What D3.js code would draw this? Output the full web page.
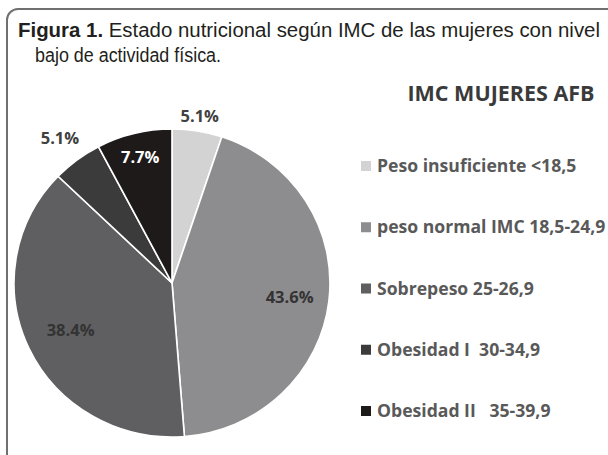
<!DOCTYPE html>
<html><head><meta charset="utf-8">
<script src="https://cdn.jsdelivr.net/npm/d3@7"></script>
<style>html,body{margin:0;padding:0;background:#fff;}svg{display:block;}</style>
</head><body>
<script>
const categories = ["Peso insuficiente <18,5", "peso normal IMC 18,5-24,9", "Sobrepeso 25-26,9", "Obesidad I  30-34,9", "Obesidad II   35-39,9"];
const values = [5.1, 43.6, 38.4, 5.1, 7.7];
const valueLabels = ["5.1%", "43.6%", "38.4%", "5.1%", "7.7%"];
const sliceColors = ["#d3d3d3", "#8d8d8f", "#5f5f61", "#3b3b3b", "#1e1a1a"];
const legendTitle = "IMC MUJERES AFB";
const captionBold = "Figura 1.";
const captionRest = " Estado nutricional según IMC de las mujeres con nivel";
const captionLine2 = "bajo de actividad física.";

const W = 608, H = 455;
const svg = d3.select("body").append("svg").attr("width", W).attr("height", H);
svg.append("rect").attr("width", W).attr("height", H).attr("fill", "#fff");

// frame
svg.append("rect").attr("x", 7).attr("y", 9).attr("width", 700).attr("height", 600)
  .attr("rx", 11).attr("fill", "none").attr("stroke", "#707070").attr("stroke-width", 2);

// caption
const capFont = "'Liberation Sans Narrow', 'Arial Narrow', 'Liberation Sans', Arial, sans-serif";
const cap = svg.append("text").attr("x", 18).attr("y", 37)
  .attr("font-family", capFont).attr("font-size", 19.5).attr("fill", "#231f20")
  .attr("textLength", 582).attr("lengthAdjust", "spacingAndGlyphs");
cap.append("tspan").attr("font-weight", "bold").text(captionBold);
cap.append("tspan").text(captionRest);
svg.append("text").attr("x", 35).attr("y", 62)
  .attr("font-family", capFont).attr("font-size", 19.5).attr("fill", "#231f20")
  .attr("textLength", 186).attr("lengthAdjust", "spacingAndGlyphs").text(captionLine2);

// pie
const cx = 172, cy = 283, R = 154, sx = 1.026;
const pie = d3.pie().sort(null).value(d => d);
const arcs = pie(values);
const arc = d3.arc().innerRadius(0).outerRadius(R);
const g = svg.append("g").attr("transform", `translate(${cx},${cy}) scale(${sx},1)`);
g.selectAll("path").data(arcs).enter().append("path")
  .attr("d", arc).attr("fill", (d, i) => sliceColors[i])
  .attr("stroke", "#fff").attr("stroke-width", 1.6).attr("stroke-linejoin", "round");

// labels
const labelFactor = [1.1, 0.75, 0.71, 1.18, 0.84];
const labelColor = ["#404040", "#333333", "#333333", "#404040", "#ffffff"];
const lg = svg.append("g").attr("transform", `translate(${cx},${cy})`);
arcs.forEach((d, i) => {
  const la = d3.arc().innerRadius(R * labelFactor[i]).outerRadius(R * labelFactor[i]);
  const [x, y] = la.centroid(d);
  lg.append("text").attr("x", x * sx).attr("y", y).attr("dy", "0.36em")
    .attr("text-anchor", "middle")
    .attr("font-family", "'Open Sans', 'Noto Sans', sans-serif").attr("font-weight", "bold")
    .attr("font-size", 16.5).attr("fill", labelColor[i]).text(valueLabels[i]);
});

// legend
svg.append("text").attr("x", 501).attr("y", 101).attr("text-anchor", "middle")
  .attr("font-family", "'Open Sans', 'Noto Sans', sans-serif").attr("font-weight", "bold")
  .attr("font-size", 21.5).attr("fill", "#3a3a3a").text(legendTitle);
const legY = d3.scalePoint().domain(categories).range([172, 417]);
const leg = svg.append("g");
categories.forEach((c, i) => {
  const y = legY(c);
  leg.append("rect").attr("x", 361).attr("y", y - 11).attr("width", 10).attr("height", 10)
    .attr("fill", sliceColors[i]);
  leg.append("text").attr("x", 377).attr("y", y)
    .attr("font-family", "'Open Sans', 'Noto Sans', sans-serif").attr("font-weight", "bold")
    .attr("font-size", 17.6).attr("fill", "#595959")
    .style("white-space", "pre").text(c);
});
</script>
</body></html>
